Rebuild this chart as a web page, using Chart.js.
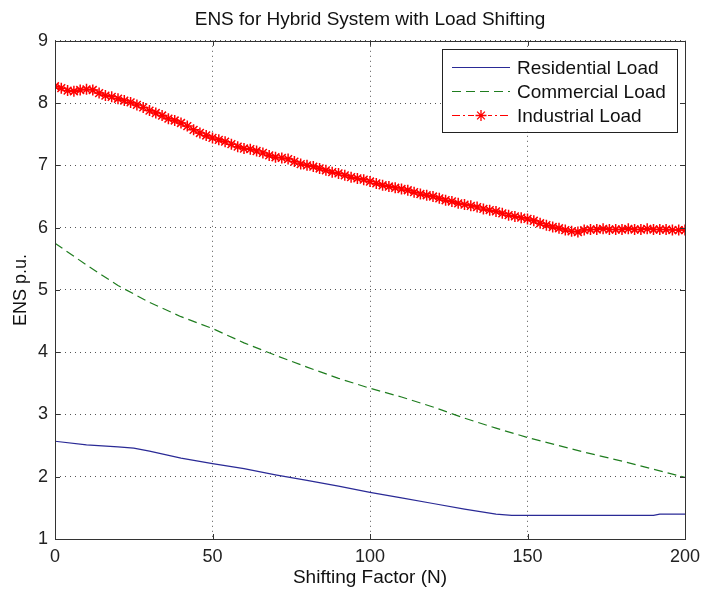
<!DOCTYPE html>
<html>
<head>
<meta charset="utf-8">
<script src="https://cdn.jsdelivr.net/npm/chart.js@4/dist/chart.umd.min.js"></script>
<style>
  html, body { margin: 0; padding: 0; background: #fff; }
  #wrap { width: 702px; height: 592px; }
</style>
</head>
<body>
<div id="wrap"><canvas id="ens"></canvas></div>
<script>
// shifting factor N for the residential and commercial curves
const resN = [0, 10, 20, 25, 30, 40, 50, 60, 70, 80, 90, 100, 110, 120, 130, 140, 145, 190, 192, 200];
const resENS = [2.57, 2.51, 2.48, 2.46, 2.41, 2.30, 2.21, 2.13, 2.03, 1.94, 1.85, 1.75, 1.66, 1.57, 1.48, 1.40, 1.38, 1.38, 1.40, 1.40];

const comN = [0, 10, 20, 30, 40, 50, 60, 70, 80, 90, 100, 110, 120, 130, 140, 150, 160, 170, 180, 190, 200];
const comENS = [5.75, 5.40, 5.07, 4.80, 4.57, 4.38, 4.15, 3.95, 3.76, 3.58, 3.42, 3.28, 3.12, 2.94, 2.78, 2.63, 2.50, 2.37, 2.25, 2.12, 1.99];

// industrial load, sampled every 2 steps of N (0..200)
const indStep = 2;
const indENS = [
  8.27, 8.24, 8.20, 8.19, 8.21, 8.22, 8.21, 8.16, 8.12, 8.10,
  8.07, 8.04, 8.01, 7.97, 7.93, 7.88, 7.84, 7.80, 7.75, 7.72,
  7.68, 7.63, 7.57, 7.52, 7.48, 7.44, 7.41, 7.38, 7.34, 7.30,
  7.27, 7.26, 7.23, 7.20, 7.16, 7.13, 7.12, 7.10, 7.06, 7.02,
  7.00, 6.98, 6.95, 6.92, 6.89, 6.87, 6.84, 6.81, 6.79, 6.77,
  6.74, 6.71, 6.68, 6.66, 6.64, 6.62, 6.60, 6.57, 6.54, 6.52,
  6.50, 6.47, 6.44, 6.42, 6.39, 6.37, 6.35, 6.33, 6.30, 6.28,
  6.26, 6.23, 6.20, 6.18, 6.16, 6.14, 6.11, 6.07, 6.04, 6.01,
  5.99, 5.96, 5.94, 5.93, 5.96, 5.97, 5.97, 5.98, 5.97, 5.97,
  5.97, 5.98, 5.97, 5.97, 5.98, 5.97, 5.97, 5.97, 5.96, 5.96,
  5.96
];

const xTicks = [0, 50, 100, 150, 200];
const yTicks = [1, 2, 3, 4, 5, 6, 7, 8, 9];

const FONT = '"Liberation Sans", Arial, Helvetica, sans-serif';

const toPoints = (xs, ys) => ys.map((v, i) => ({ x: xs[i], y: v }));

// MATLAB-like box with inward tick marks
const framePlugin = {
  id: 'frame',
  afterDatasetsDraw(chart) {
    const { ctx, chartArea: a, scales } = chart;
    ctx.save();
    ctx.strokeStyle = '#333';
    ctx.lineWidth = 1;
    ctx.setLineDash([]);
    ctx.strokeRect(Math.round(a.left) + 0.5, Math.round(a.top) + 0.5,
      Math.round(a.right - a.left), Math.round(a.bottom - a.top));
    const tl = 5;
    ctx.beginPath();
    xTicks.forEach(v => {
      const px = Math.round(scales.x.getPixelForValue(v)) + 0.5;
      ctx.moveTo(px, a.bottom); ctx.lineTo(px, a.bottom - tl);
      ctx.moveTo(px, a.top); ctx.lineTo(px, a.top + tl);
    });
    yTicks.forEach(v => {
      const py = Math.round(scales.y.getPixelForValue(v)) + 0.5;
      ctx.moveTo(a.left, py); ctx.lineTo(a.left + tl, py);
      ctx.moveTo(a.right, py); ctx.lineTo(a.right - tl, py);
    });
    ctx.stroke();
    ctx.restore();
  }
};

const legendPlugin = {
  id: 'boxLegend',
  afterDraw(chart) {
    const { ctx, chartArea: a } = chart;
    const w = 235, h = 83;
    const left = a.right - 8 - w, top = a.top + 8;
    ctx.save();
    ctx.fillStyle = '#fff';
    ctx.fillRect(left, top, w, h);
    ctx.strokeStyle = '#222';
    ctx.lineWidth = 1;
    ctx.strokeRect(Math.round(left) + 0.5, Math.round(top) + 0.5, w, h);
    ctx.font = '19px ' + FONT;
    ctx.textBaseline = 'middle';
    chart.data.datasets.forEach((ds, i) => {
      const cy = Math.round(top + 18 + i * 24) + 0.5;
      const x1 = left + 10, x2 = left + 68;
      ctx.strokeStyle = ds.borderColor;
      ctx.lineWidth = 1;
      ctx.setLineDash(ds.borderDash || []);
      ctx.beginPath();
      ctx.moveTo(x1, cy); ctx.lineTo(x2, cy);
      ctx.stroke();
      ctx.setLineDash([]);
      if (ds.pointStyle === 'star') {
        const cx = (x1 + x2) / 2;
        ctx.fillStyle = '#fff';
        ctx.fillRect(cx - 7, cy - 7, 14, 14);
        ctx.strokeStyle = ds.pointBorderColor;
        ctx.lineWidth = 1.3;
        ctx.beginPath();
        for (let k = 0; k < 4; k++) {
          const ang = k * Math.PI / 4;
          const r = 5.5;
          ctx.moveTo(cx - Math.cos(ang) * r, cy - Math.sin(ang) * r);
          ctx.lineTo(cx + Math.cos(ang) * r, cy + Math.sin(ang) * r);
        }
        ctx.stroke();
      }
      ctx.fillStyle = '#111';
      ctx.fillText(ds.label, left + 75, cy + 1);
    });
    ctx.restore();
  }
};

new Chart(document.getElementById('ens'), {
  type: 'line',
  data: {
    datasets: [
      {
        label: 'Residential Load',
        data: toPoints(resN, resENS),
        borderColor: '#2a2a96',
        borderWidth: 1.2,
        pointRadius: 0,
        tension: 0
      },
      {
        label: 'Commercial Load',
        data: toPoints(comN, comENS),
        borderColor: '#1f7d1f',
        borderWidth: 1.2,
        borderDash: [9, 5],
        pointRadius: 0,
        tension: 0
      },
      {
        label: 'Industrial Load',
        data: indENS.map((v, i) => ({ x: i * indStep, y: v })),
        borderColor: '#ff0000',
        borderWidth: 1,
        borderDash: [8, 3, 2, 3],
        pointStyle: 'star',
        pointRadius: 5.5,
        pointBorderWidth: 1.5,
        pointBorderColor: '#ff0000',
        pointBackgroundColor: '#ff0000',
        tension: 0
      }
    ]
  },
  options: {
    responsive: true,
    maintainAspectRatio: false,
    animation: false,
    layout: { padding: { left: 0, right: 17, top: 0, bottom: 0 } },
    plugins: {
      legend: { display: false },
      tooltip: { enabled: false },
      title: {
        display: true,
        fullSize: false,
        text: 'ENS for Hybrid System with Load Shifting',
        color: '#111',
        font: { family: FONT, size: 19, weight: 'normal' },
        padding: { top: 8, bottom: 10 }
      }
    },
    scales: {
      x: {
        type: 'linear',
        min: 0,
        max: 200,
        afterBuildTicks: s => { s.ticks = xTicks.map(v => ({ value: v })); },
        afterFit: s => { s.height = 53; s.paddingLeft = 0; s.paddingRight = 0; },
        ticks: { color: '#222', padding: 7, font: { family: FONT, size: 18 } },
        grid: { color: '#555', lineWidth: 1, drawTicks: false },
        border: { display: false, dash: [1, 4] },
        title: {
          display: true,
          text: 'Shifting Factor (N)',
          color: '#111',
          font: { family: FONT, size: 19 },
          padding: { top: 0, bottom: 3 }
        }
      },
      y: {
        type: 'linear',
        min: 1,
        max: 9,
        afterBuildTicks: s => { s.ticks = yTicks.map(v => ({ value: v })); },
        afterFit: s => { s.width = 55; s.paddingTop = 0; s.paddingBottom = 0; },
        ticks: { color: '#222', padding: 7, font: { family: FONT, size: 18 } },
        grid: { color: '#555', lineWidth: 1, drawTicks: false },
        border: { display: false, dash: [1, 4] },
        title: {
          display: true,
          text: 'ENS p.u.',
          color: '#111',
          font: { family: FONT, size: 18 },
          padding: { top: 10, bottom: 0 }
        }
      }
    }
  },
  plugins: [framePlugin, legendPlugin]
});
</script>
</body>
</html>
